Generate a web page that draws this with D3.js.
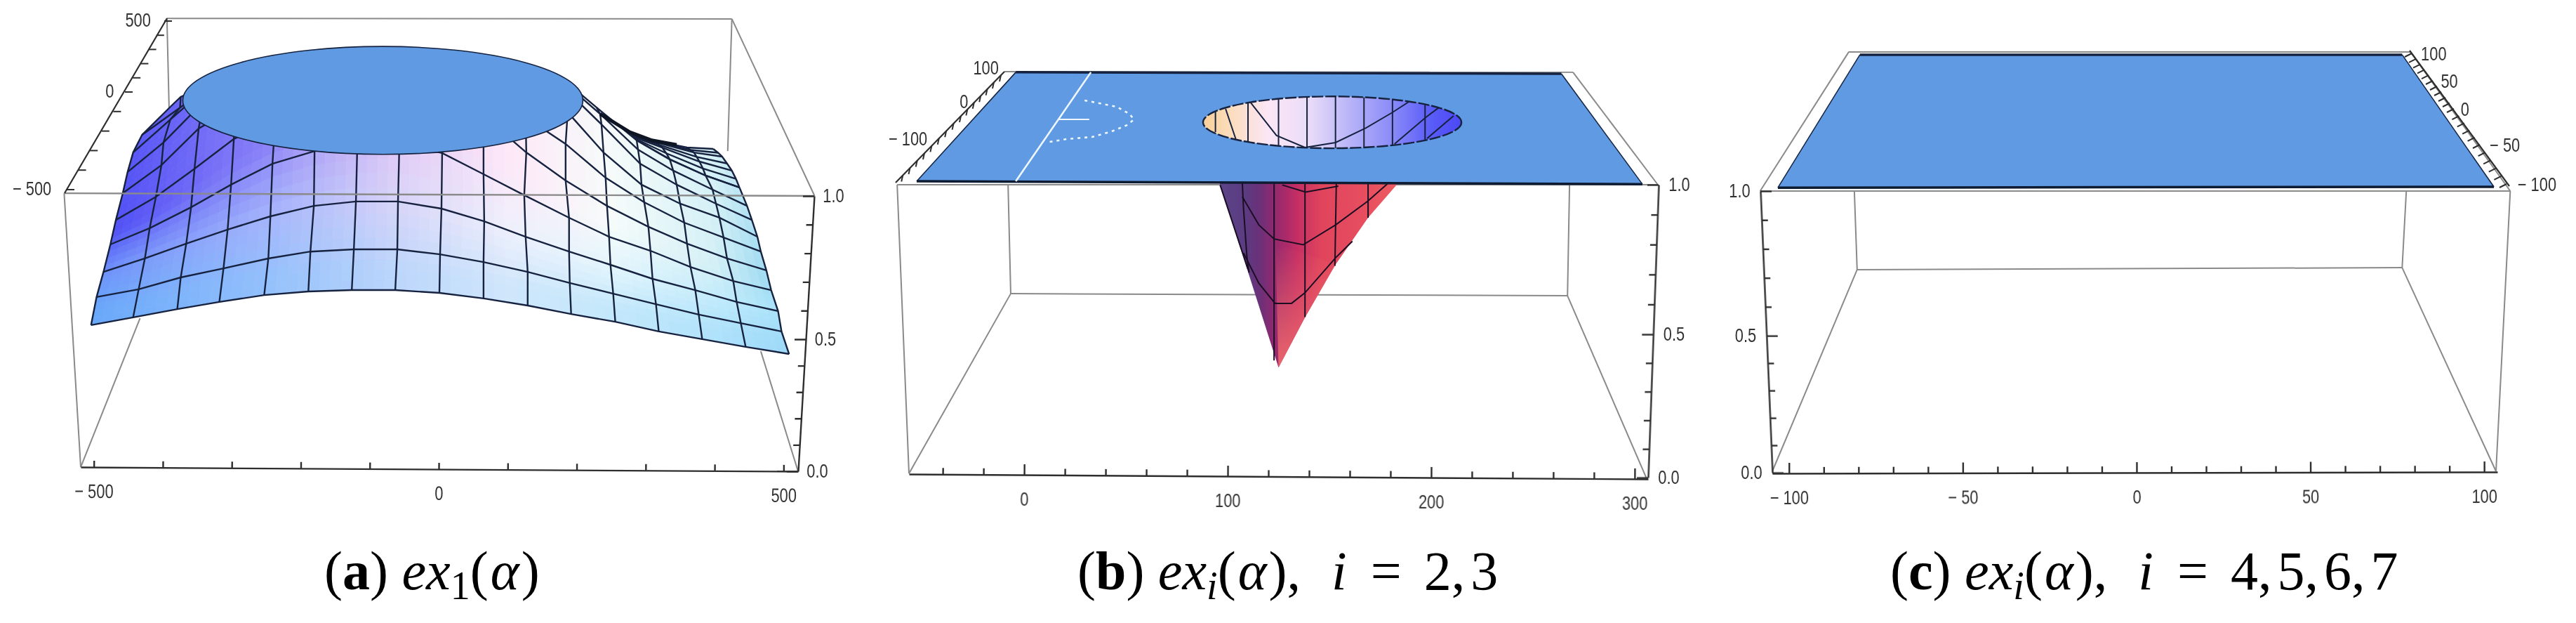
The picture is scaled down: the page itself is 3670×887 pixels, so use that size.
<!DOCTYPE html>
<html>
<head>
<meta charset="utf-8">
<script src="https://cdn.jsdelivr.net/npm/d3@7"></script>
<style>
  html, body { margin: 0; background: #fff; }
  svg { display: block; }
  .tick text, .lab { font-family: "Liberation Sans", sans-serif; font-size: 28px; fill: #333;
    transform-box: fill-box; transform-origin: center; transform: scaleX(.78); }
  .axis path, .axis line { stroke: #2e2e2e; stroke-width: 2.4; fill: none; }
  .cap { font-family: "Liberation Serif", serif; font-size: 78px; fill: #000; }
</style>
</head>
<body>
<svg></svg>
<script>
// panel a: surface grid (rows bottom to top)
let aXRows = [
  [-504,-443,-379,-318,-253,-189,-126,-63,1,65,129,192,256,319,382,445,508],
  [-496,-435,-374,-312,-247,-186,-123,-60,2,65,129,190,253,315,377,438,497],
  [-486,-426,-366,-306,-244,-181,-120,-59,4,66,126,189,249,310,372,432,492],
  [-476,-419,-359,-301,-241,-180,-118,-57,5,65,124,189,247,307,365,427,482],
  [-468,-410,-354,-297,-237,-179,-117,-56,5,65,127,184,244,304,360,418,475],
  [-458,-402,-348,-295,-237,-179,-117,-56,5,65,126,184,242,298,356,413,467],
  [-451,-399,-341,-295,-237,-179,-117,-56,5,65,122,187,239,294,350,407,462],
  [-443,-389,-336,-295,-237,-179,-117,-56,5,65,122,187,236,292,345,402,454],
  [-430,-375,-331,-295,-237,-179,-117,-56,5,65,122,187,234,289,340,397,447],
  [-389,-374,-331,-295,-237,-179,-117,-56,5,65,122,187,229,287,335,387,436]
]
let aZRows = [
  [.531,.559,.589,.615,.640,.653,.658,.658,.648,.628,.602,.571,.543,.508,.480,.452,.426],
  [.633,.661,.704,.737,.773,.798,.806,.806,.788,.760,.724,.684,.645,.607,.569,.538,.508],
  [.724,.773,.827,.878,.926,.964,.980,.980,.954,.908,.852,.798,.750,.699,.658,.615,.582],
  [.824,.883,.959,1.041,1.117,1.163,1.184,1.189,1.156,1.079,1.003,.921,.852,.801,.742,.691,.658],
  [.913,.997,1.099,1.207,1.278,1.329,1.342,1.342,1.329,1.291,1.158,1.056,.964,.888,.827,.773,.730],
  [1.010,1.112,1.245,1.321,1.380,1.418,1.444,1.444,1.418,1.393,1.286,1.189,1.066,.977,.903,.849,.798],
  [1.087,1.194,1.342,1.38,1.40,1.41,1.42,1.42,1.41,1.40,1.38,1.304,1.158,1.041,.972,.921,.852],
  [1.158,1.278,1.393,1.40,1.42,1.43,1.44,1.44,1.43,1.42,1.40,1.38,1.260,1.117,1.041,.972,.913],
  [1.222,1.321,1.40,1.42,1.44,1.45,1.46,1.46,1.45,1.44,1.42,1.40,1.298,1.168,1.092,1.023,.964],
  [1.324,1.360,1.41,1.44,1.46,1.47,1.48,1.48,1.47,1.46,1.44,1.41,1.321,1.202,1.133,1.074,1.031]
]
// the packed strip at the far right of the surface
let aXTail = [
  [287,335,387,436],
  [285,330,383,431],
  [283,324,378,425],
  [281,320,374,418],
  [280,316,370,411],
  [278,312,365,405],
  [277,309,360,398]
]
let aZTail = [
  [1.202,1.133,1.074,1.031],
  [1.208,1.155,1.100,1.062],
  [1.214,1.176,1.125,1.092],
  [1.218,1.185,1.142,1.118],
  [1.222,1.194,1.158,1.143],
  [1.227,1.198,1.167,1.157],
  [1.232,1.202,1.176,1.171]
]
let aTailTop = [[234,1.298],[277,1.232],[309,1.202],[345,1.186]]
let aCap = { x: -81, z: 1.347, rx: 290, rz: .196 }

// surface colours by x, lower / middle / upper rows
let aColorX = [-500,-250,-60,100,250,400,500]
let aColorLow = ["#6aa8fa","#93c0fb","#bcd6fb","#cfe6fb","#c4e8fb","#b0e2fb","#9edaf8"]
let aColorMid = ["#6a8ffa","#a4b4fb","#d8d4f8","#eef0fc","#e4f5fc","#c4ecfb","#a8e2fa"]
let aColorHigh = ["#4a4af5","#8a80f7","#e6c4f5","#fde8f8","#f6fbfa","#d4f0f6","#90d4f0"]

let aXTicks = d3.range(-500, 501, 100)
let aXLabels = [-500, 0, 500]
let aDepthTicks = d3.range(-500, 501, 100)
let aDepthLabels = [-500, 0, 500]

// panel b: plane, hole and cone
let bPlaneX = [-4.1, 264, 303.8, -52.8]
let bPlaneZ = [1.384, 1.379, 1.002, 1.012]
let bHole = { x: 151.4, z: 1.213, rx: 63.5, rz: .0885 }
let bHoleColorX = [88, 100, 120, 140, 160, 180, 200, 215]
let bHoleColors = ["#f8cf98","#fbdcb8","#fbe6f6","#eadcf8","#b8b4f8","#8c8cf8","#5a5cf8","#4c48f5"]
let bHoleLines = [
  [[110,1.31],[110,1.11]], [[125,1.31],[125,1.11]], [[139,1.31],[139,1.11]], [[153,1.31],[153,1.11]],
  [[167,1.31],[167,1.11]], [[181,1.31],[181,1.13]], [[197,1.31],[197,1.15]],
  [[111,1.283],[124,1.168],[138,1.127],[153,1.144],[168,1.194],[181,1.247],[189,1.283]],
  [[94,1.252],[94,1.180]], [[99,1.259],[104,1.156]],
  [[182,1.139],[197,1.228],[207,1.28]], [[198,1.158],[211,1.235]]
]
let bConeX = [96, 125, 138, 153, 169, 184]
let bConeZ = [1.007, .376, .547, .727, .887, 1.007]
let bConeColorX = [96, 108, 116, 124, 134, 146, 170, 184]
let bConeColors = ["#5c4488","#5a3c82","#6c3078","#96296e","#c42e64","#e0445c","#e85060","#ee5c62"]
// lighter salmon towards the tip, right of the centre line
let bTipX = [123.5, 153, 138, 125]
let bTipZ = [.80, .727, .547, .376]
let bConeLines = [
  [[96.3,.999],[110,.711]],
  [[107.2,1.007],[107.8,.919],[109.5,.75],[110.5,.70]],
  [[122.8,1.007],[122.8,.400]],
  [[138,1.007],[138,.548]],
  [[153.4,1.007],[152.7,.723]],
  [[169,1.007],[169,.887]],
  [[126.8,.999],[138.3,.975],[154.4,.995]],
  [[107.2,.959],[115.3,.863],[122.8,.815],[137.1,.795],[153.1,.863],[168.7,.943],[178.5,1.003]],
  [[107.8,.767],[115.3,.664],[123.3,.595],[131.4,.595],[138,.631],[153.1,.751],[161.3,.807]]
]
let bWhiteLine = [[32.8,1.384],[-4.1,1.012]]
let bWhiteTick = [[17.2,1.223],[32,1.223]]
let bDotted = [[29.7,1.288],[37,1.278],[45.5,1.266],[51.7,1.242],[54,1.223],[50.7,1.204],[43,1.182],[33.4,1.163],[21,1.156],[12.4,1.146]]
let bXTicks = d3.range(-40, 301, 20)
let bXLabels = [0, 100, 200, 300]
let bDepthTicks = d3.range(-160, 121, 20)
let bDepthLabels = [-100, 0, 100]

// panel c: plane only
let cPlaneX = [-79.6, 76.4, 102.8, -103.2]
let cPlaneZ = [1.484, 1.484, 1.015, 1.012]
let cXTicks = d3.range(-100, 101, 10)
let cXLabels = [-100, -50, 0, 50, 100]
let cDepthTicks = d3.range(-100, 101, 10)
let cDepthLabels = [-100, -50, 0, 50, 100]

let zTicks = d3.range(0, 1.01, .1)
let zLabels = [0, .5, 1]

// box edges as x1,z1,x2,z2 in each panel's units
let aBox = [[-394,1.645,425,1.643],[-394,1.645,-390,1.227],[425,1.643,419,1.163],[425,1.643,545,1],
  [-543,1.01,-519,.015],[-519,.015,-433,.556],[521,0,467,.436]]
let aFront = [[-543,1.01,545,1]]
let bBox = [[-9.7,1.386,269.7,1.384],[-62.4,1,311.4,1],[-7.9,.998,-6.6,.628],[268,.998,267,.621],
  [-6.6,.628,267,.621],[-62.4,1,-56.6,.014],[-56.6,.014,-6.6,.628],[306,-.005,267,.621],[269.7,1.384,311.4,1]]
let cBox = [[-82.8,1.494,78.8,1.494],[-108.3,1,107.5,1],[-81.2,1,-80.4,.721],[77.6,1,76.4,.728],
  [-80.4,.721,76.4,.728],[-104.8,.005,-80.4,.721],[103.4,.005,76.4,.728],[107.5,1,103.4,.005],
  [-108.3,1,-82.8,1.494],[78.8,1.494,107.5,1]]

let capLabels = ["a", "b", "c"]
let capSubs = ["1", "i", "i"]
let capValues = [[], ["2", "3"], ["4", "5", "6", "7"]]

let width = 3670
let height = 887
let planeBlue = "#5e9ae2"
let meshColor = "#17233f"
let boxColor = "#8a8a8a"

let svg = d3.select("svg").attr("width", width).attr("height", height)
svg.append("rect").attr("width", width).attr("height", height).attr("fill", "#fff")

let defs = svg.append("defs")
defs.append("filter").attr("id", "soft").attr("x", "-5%").attr("y", "-5%").attr("width", "110%").attr("height", "110%")
  .append("feGaussianBlur").attr("stdDeviation", .6)

// scales, one set per panel
let xA = d3.scaleLinear().domain([-519, 521]).range([115, 1137])
let zA = d3.scaleLinear().domain([0, 1]).range([671, 279])
let zTickA = d3.scaleLinear().domain([0, .5, 1]).range([671, 483, 279])
let depthXA = d3.scaleLinear().domain([-530,-500,0,500,530]).range([92,95,178,234,238])
let depthYA = d3.scaleLinear().domain([-530,-500,0,500,530]).range([275,270,131,30,26])

let xB = d3.scaleLinear().domain([-56.6, 306.6]).range([1295, 2348])
let zB = d3.scaleLinear().domain([0, 1]).range([680, 263])
let zTickB = d3.scaleLinear().domain([0, .5, 1]).range([680, 476, 263])
let depthXB = d3.scaleLinear().domain([-180,-100,0,100,130]).range([1276,1317,1369,1416,1431])
let depthYB = d3.scaleLinear().domain([-180,-100,0,100,130]).range([260,218,165,117,102])

let xC = d3.scaleLinear().domain([-104.8, 103.8]).range([2525, 3558])
let zC = d3.scaleLinear().domain([0, 1]).range([673, 272])
let zTickC = d3.scaleLinear().domain([0, .5, 1]).range([673, 478, 272])
let depthXC = d3.scaleLinear().domain([-108,-100,-50,0,50,100,104]).range([3575,3571,3533,3496,3466,3436,3433])
let depthYC = d3.scaleLinear().domain([-108,-100,-50,0,50,100,104]).range([265,262,206,155,115,76,72])

let fmtDepth = (d) => d < 0 ? "\u2212 " + Math.abs(d) : String(d)

let drawEdges = (g, edges, x, z, color, w) => {
  g.append("g").selectAll("line").data(edges).enter().append("line")
    .attr("x1", (d) => x(d[0])).attr("y1", (d) => z(d[1]))
    .attr("x2", (d) => x(d[2])).attr("y2", (d) => z(d[3]))
    .attr("stroke", color).attr("stroke-width", w)
}

let drawXAxis = (g, x, y0, y1, ticks, labels, majorStep) => {
  let r = x.range()
  let angle = Math.atan2(y1 - y0, r[1] - r[0]) * 180 / Math.PI
  let axis = g.append("g").attr("class", "axis")
    .attr("transform", "translate(" + r[0] + "," + y0 + ") rotate(" + angle + ") translate(" + (-r[0]) + ",0)")
    .call(d3.axisBottom(x).tickValues(ticks).tickSize(-9).tickSizeOuter(0).tickPadding(24)
      .tickFormat((d) => labels.includes(d) ? fmtDepth(d) : ""))
  if (majorStep) {
    axis.selectAll(".tick").filter((d) => d % majorStep == 0).select("line").attr("y2", -15)
  }
}

// z axis leans with the box front, so it sits in a sheared group
let drawZAxis = (g, z, x0, x1, side, labelDx) => {
  let k = (x1 - x0) / (z(1) - z(0))
  let e = x0 - k * z(0)
  let gen = side < 0 ? d3.axisLeft(z) : d3.axisRight(z)
  let axis = g.append("g").attr("class", "axis")
    .attr("transform", "matrix(1,0," + k + ",1," + e + ",0)")
    .call(gen.tickValues(zTicks).tickSize(9).tickSizeOuter(0).tickFormat(""))
  axis.selectAll(".tick").filter((d) => Math.abs(d * 2 - Math.round(d * 2)) < .01).select("line").attr("x2", side * 16)
  g.selectAll("text.zl").data(zLabels).enter().append("text").attr("class", "zl lab")
    .attr("x", (d) => x0 + (x1 - x0) * d + labelDx)
    .attr("y", (d) => z(d) + 9)
    .attr("text-anchor", labelDx > 0 ? "start" : "end")
    .text((d) => d3.format(".1f")(d))
}

let drawDepthAxis = (g, dx, dy, ticks, labels, t, l, anchor) => {
  let dom = dx.domain()
  g.append("line").attr("stroke", "#2e2e2e").attr("stroke-width", 2.2)
    .attr("x1", dx(dom[0])).attr("y1", dy(dom[0]))
    .attr("x2", dx(dom[dom.length - 1])).attr("y2", dy(dom[dom.length - 1]))
  g.append("g").selectAll("line").data(ticks).enter().append("line")
    .attr("x1", dx).attr("y1", dy)
    .attr("x2", (d) => dx(d) + t[0]).attr("y2", (d) => dy(d) + t[1])
    .attr("stroke", "#2e2e2e").attr("stroke-width", 2)
  g.append("g").selectAll("text").data(labels).enter().append("text").attr("class", "lab")
    .attr("x", (d) => dx(d) + l[0]).attr("y", (d) => dy(d) + l[1])
    .attr("text-anchor", anchor).text(fmtDepth)
}

let drawPlane = (g, xs, zs, x, z) => {
  g.append("polygon").attr("points", xs.map((d, i) => x(d) + "," + z(zs[i])).join(" ")).attr("fill", planeBlue)
  g.append("line").attr("x1", x(xs[0])).attr("y1", z(zs[0])).attr("x2", x(xs[1])).attr("y2", z(zs[1]))
    .attr("stroke", "#14233f").attr("stroke-width", 3.5)
  g.append("line").attr("x1", x(xs[3])).attr("y1", z(zs[3])).attr("x2", x(xs[2])).attr("y2", z(zs[2]))
    .attr("stroke", "#101a30").attr("stroke-width", 3.5)
  g.append("line").attr("x1", x(xs[1])).attr("y1", z(zs[1])).attr("x2", x(xs[2])).attr("y2", z(zs[2]))
    .attr("stroke", "#14233f").attr("stroke-width", 1.5)
  g.append("line").attr("x1", x(xs[0])).attr("y1", z(zs[0])).attr("x2", x(xs[3])).attr("y2", z(zs[3]))
    .attr("stroke", "#14233f").attr("stroke-width", 1.5)
}

let gradient = (id, x, stops, colors) => {
  let grad = defs.append("linearGradient").attr("id", id).attr("gradientUnits", "userSpaceOnUse")
    .attr("x1", x(stops[0])).attr("x2", x(stops[stops.length - 1])).attr("y1", 0).attr("y2", 0)
  grad.selectAll("stop").data(stops).enter().append("stop")
    .attr("offset", (d) => (d - stops[0]) / (stops[stops.length - 1] - stops[0]))
    .attr("stop-color", (d, i) => colors[i])
}

// ---- panel a
let colorLow = d3.scaleLinear().domain(aColorX).range(aColorLow).clamp(true)
let colorMid = d3.scaleLinear().domain(aColorX).range(aColorMid).clamp(true)
let colorHigh = d3.scaleLinear().domain(aColorX).range(aColorHigh).clamp(true)
let rowMix = d3.scaleLinear().domain([.5, 2, 3.5]).range([0, .5, 1]).clamp(true)
let surfaceColor = (xv, row) => d3.piecewise(d3.interpolateRgb, [colorLow(xv), colorMid(xv), colorHigh(xv)])(rowMix(row))

let cellsOf = (xRows, zRows, rowStart) => {
  let cells = []
  let n = 4
  let lerp = (m, i, j, u, v) => {
    let a = m[i][j] * (1 - u) + m[i][j + 1] * u
    let b = m[i + 1][j] * (1 - u) + m[i + 1][j + 1] * u
    return a * (1 - v) + b * v
  }
  for (let i = 0; i < xRows.length - 1; i++) {
    for (let j = 0; j < xRows[0].length - 1; j++) {
      for (let a = 0; a < n; a++) {
        for (let b = 0; b < n; b++) {
          let corners = [[a, b], [a + 1, b], [a + 1, b + 1], [a, b + 1]].map((c) =>
            [lerp(xRows, i, j, c[0] / n, c[1] / n), lerp(zRows, i, j, c[0] / n, c[1] / n)])
          cells.push({ corners: corners, row: rowStart + i + (b + .5) / n, xv: d3.mean(corners, (c) => c[0]) })
        }
      }
    }
  }
  return cells
}

let panelA = svg.append("g").attr("filter", "url(#soft)")
drawEdges(panelA, aBox, xA, zA, boxColor, 2)

let aCells = cellsOf(aXRows, aZRows, 0).concat(cellsOf(aXTail, aZTail, 9))
panelA.append("g").selectAll("polygon").data(aCells).enter().append("polygon")
  .attr("points", (d) => d.corners.map((c) => xA(c[0]) + "," + zA(c[1])).join(" "))
  .attr("fill", (d) => surfaceColor(d.xv, d.row))
  .attr("stroke", (d) => surfaceColor(d.xv, d.row)).attr("stroke-width", .8)

let aLine = d3.line().x((d) => xA(d[0])).y((d) => zA(d[1]))
let aPaths = []
aXRows.forEach((r, i) => aPaths.push(r.map((d, j) => [d, aZRows[i][j]])))
aXTail.forEach((r, i) => aPaths.push(r.map((d, j) => [d, aZTail[i][j]])))
aXRows[0].forEach((d, j) => aPaths.push(aXRows.map((r, i) => [r[j], aZRows[i][j]])))
aXTail[0].forEach((d, j) => aPaths.push(aXTail.map((r, i) => [r[j], aZTail[i][j]])))
panelA.append("g").selectAll("path").data(aPaths).enter().append("path")
  .attr("d", aLine).attr("fill", "none").attr("stroke", meshColor).attr("stroke-width", 2.4)
panelA.append("path").attr("d", aLine(aTailTop)).attr("fill", "none").attr("stroke", "#0c1224").attr("stroke-width", 5)

panelA.append("ellipse")
  .attr("cx", xA(aCap.x)).attr("cy", zA(aCap.z))
  .attr("rx", xA(aCap.x + aCap.rx) - xA(aCap.x)).attr("ry", zA(aCap.z) - zA(aCap.z + aCap.rz))
  .attr("fill", planeBlue).attr("stroke", meshColor).attr("stroke-width", 1.6)
drawEdges(panelA, aFront, xA, zA, boxColor, 2.4)

drawXAxis(panelA, xA, 665, 671, aXTicks, aXLabels)
drawZAxis(panelA, zTickA, 1137, 1160, -1, 8)
drawDepthAxis(panelA, depthXA, depthYA, aDepthTicks, aDepthLabels, [11, 0], [-14, 8], "end")

// ---- panel b
let panelB = svg.append("g").attr("filter", "url(#soft)")
drawEdges(panelB, bBox, xB, zB, boxColor, 2)

gradient("coneFill", xB, bConeColorX, bConeColors)
panelB.append("polygon")
  .attr("points", bConeX.map((d, i) => xB(d) + "," + zB(bConeZ[i])).join(" "))
  .attr("fill", "url(#coneFill)")

let tipGrad = defs.append("linearGradient").attr("id", "tipFill").attr("gradientUnits", "userSpaceOnUse")
  .attr("x1", 0).attr("x2", 0).attr("y1", zB(d3.max(bTipZ))).attr("y2", zB(d3.min(bTipZ)))
tipGrad.append("stop").attr("offset", 0).attr("stop-color", "#f0696c").attr("stop-opacity", 0)
tipGrad.append("stop").attr("offset", 1).attr("stop-color", "#f0696c").attr("stop-opacity", .95)
panelB.append("polygon")
  .attr("points", bTipX.map((d, i) => xB(d) + "," + zB(bTipZ[i])).join(" "))
  .attr("fill", "url(#tipFill)")

let bLine = d3.line().x((d) => xB(d[0])).y((d) => zB(d[1]))
panelB.append("g").selectAll("path").data(bConeLines).enter().append("path")
  .attr("d", bLine).attr("fill", "none").attr("stroke", "#1c0f24").attr("stroke-width", 2)

drawPlane(panelB, bPlaneX, bPlaneZ, xB, zB)

gradient("holeFill", xB, bHoleColorX, bHoleColors)
let hole = { cx: xB(bHole.x), cy: zB(bHole.z), rx: xB(bHole.x + bHole.rx) - xB(bHole.x), ry: zB(bHole.z) - zB(bHole.z + bHole.rz) }
defs.append("clipPath").attr("id", "holeClip").append("ellipse")
  .attr("cx", hole.cx).attr("cy", hole.cy).attr("rx", hole.rx).attr("ry", hole.ry)
panelB.append("ellipse").attr("cx", hole.cx).attr("cy", hole.cy).attr("rx", hole.rx).attr("ry", hole.ry)
  .attr("fill", "url(#holeFill)")
panelB.append("g").attr("clip-path", "url(#holeClip)")
  .selectAll("path").data(bHoleLines).enter().append("path")
  .attr("d", bLine).attr("fill", "none").attr("stroke", meshColor).attr("stroke-width", 2)
panelB.append("ellipse").attr("cx", hole.cx).attr("cy", hole.cy).attr("rx", hole.rx).attr("ry", hole.ry)
  .attr("fill", "none").attr("stroke", meshColor).attr("stroke-width", 2.4).attr("stroke-dasharray", "16 3")

panelB.append("path").attr("d", bLine(bWhiteLine)).attr("stroke", "#eef6ff").attr("stroke-width", 2.6).attr("fill", "none")
panelB.append("path").attr("d", bLine(bWhiteTick)).attr("stroke", "#eef6ff").attr("stroke-width", 2.2).attr("fill", "none")
panelB.append("path").attr("d", bLine(bDotted)).attr("stroke", "#eef6ff").attr("stroke-width", 2.6).attr("fill", "none")
  .attr("stroke-dasharray", "4 6")

drawXAxis(panelB, xB, 675, 682, bXTicks, bXLabels, 100)
drawZAxis(panelB, zTickB, 2348, 2363, -1, 10)
drawDepthAxis(panelB, depthXB, depthYB, bDepthTicks, bDepthLabels, [-2, 9], [12, -11], "end")

// ---- panel c
let panelC = svg.append("g").attr("filter", "url(#soft)")
drawEdges(panelC, cBox, xC, zC, boxColor, 2)
drawPlane(panelC, cPlaneX, cPlaneZ, xC, zC)
drawXAxis(panelC, xC, 674, 672, cXTicks, cXLabels, 50)
drawZAxis(panelC, zTickC, 2525, 2508, 1, -10)
drawDepthAxis(panelC, depthXC, depthYC, cDepthTicks, cDepthLabels, [-10, 5], [8, 10], "start")

// ---- captions
let capX = [462, 1535, 2693]
capLabels.forEach((letter, k) => {
  let t = svg.append("text").attr("class", "cap").attr("x", capX[k]).attr("y", 839)
  t.append("tspan").text("(")
  t.append("tspan").attr("font-weight", "bold").text(letter)
  t.append("tspan").text(") ")
  t.append("tspan").attr("font-style", "italic").text("ex")
  t.append("tspan").attr("font-size", 56).attr("dy", 14).attr("font-style", capSubs[k] == "i" ? "italic" : "normal").text(capSubs[k])
  t.append("tspan").attr("dy", -14).text("(")
  t.append("tspan").attr("font-style", "italic").attr("dx", 3).text("α")
  t.append("tspan").attr("dx", 3).text(")")
  if (capValues[k].length) {
    t.append("tspan").text(",")
    t.append("tspan").attr("dx", 44).attr("font-style", "italic").text("i")
    t.append("tspan").attr("dx", 34).text("=")
    capValues[k].forEach((v, n) => {
      if (n > 0) {
        t.append("tspan").text(",")
      }
      t.append("tspan").attr("dx", n > 0 ? 8 : 32).text(v)
    })
  }
})
</script>
</body>
</html>
